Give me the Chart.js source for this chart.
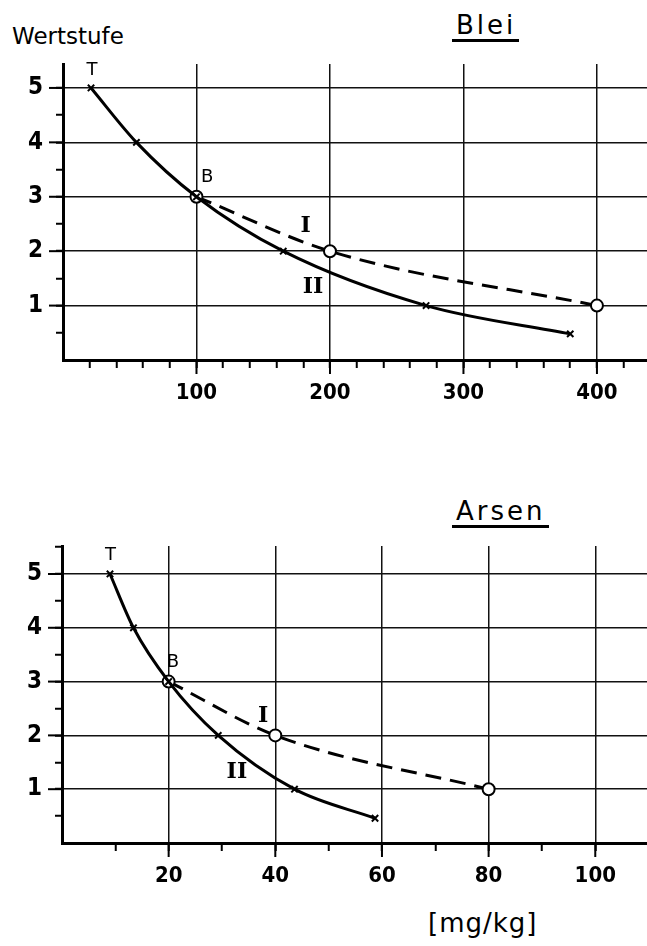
<!DOCTYPE html>
<html>
<head>
<meta charset="utf-8">
<script src="https://cdn.jsdelivr.net/npm/chart.js@4.4.1/dist/chart.umd.min.js"></script>
<style>
  body { margin: 0; width: 647px; height: 946px; position: relative; overflow: hidden; background: #fff; font-family: "DejaVu Sans", sans-serif; color: #000; }
  canvas { position: absolute; left: 0; }
  .title { position: absolute; font-size: 26px; line-height: 1; letter-spacing: 3px; border-bottom: 3px solid #000; padding: 0 3px 1px 4px; }
  .label { position: absolute; line-height: 1; }
</style>
</head>
<body>
<div class="label" style="left:12px; top:25px; font-size:23px;">Wertstufe</div>
<div class="title" style="left:452px; top:12px;">Blei</div>
<canvas id="bleiChart" width="647" height="400" style="top:0"></canvas>
<div class="title" style="left:452px; top:498px;">Arsen</div>
<canvas id="arsenChart" width="647" height="403" style="top:480px"></canvas>
<div class="label" style="left:428px; top:910px; font-size:26px; letter-spacing:1px;">[mg/kg]</div>

<script>
// Wertstufen (y)
const wertstufen = [1, 2, 3, 4, 5];

// Blei – Kurve II (durchgezogen, x-Marken) und Kurve I (gestrichelt, Kreise)
const bleiXII = [21, 55, 100, 165, 272, 380];
const bleiYII = [5, 4, 3, 2, 1, 0.48];
const bleiXI = [100, 200, 400];
const bleiYI = [3, 2, 1];
const bleiTickLabels = [100, 200, 300, 400];

// Arsen
const arsenXII = [9, 13.4, 20, 29.3, 43.6, 58.7];
const arsenYII = [5, 4, 3, 2, 1, 0.46];
const arsenXI = [20, 40, 80];
const arsenYI = [3, 2, 1];
const arsenTickLabels = [20, 40, 60, 80, 100];

// Beschriftungen im Diagramm
const noteText = ['T', 'B', 'I', 'II'];
const bleiNoteX = [21.7, 108, 181.7, 187.3];
const bleiNoteY = [5.33, 3.35, 2.46, 1.34];
const arsenNoteX = [9.1, 20.8, 37.7, 32.8];
const arsenNoteY = [5.35, 3.35, 2.35, 1.32];

const toPoints = (xs, ys) => xs.map((x, i) => ({ x: x, y: ys[i] }));

// längere Striche an den beschrifteten Ticks
const longTicks = {
  id: 'longTicks',
  afterDraw(chart, args, opts) {
    const ctx = chart.ctx;
    const { left, bottom } = chart.chartArea;
    ctx.save();
    ctx.strokeStyle = '#000';
    ctx.lineWidth = 2;
    opts.xMajor.forEach(v => {
      const px = chart.scales.x.getPixelForValue(v);
      ctx.beginPath(); ctx.moveTo(px, bottom); ctx.lineTo(px, bottom + 14); ctx.stroke();
    });
    wertstufen.forEach(v => {
      const py = chart.scales.y.getPixelForValue(v);
      ctx.beginPath(); ctx.moveTo(left - 14, py); ctx.lineTo(left, py); ctx.stroke();
    });
    ctx.restore();
  }
};

const notes = {
  id: 'notes',
  afterDatasetsDraw(chart, args, opts) {
    const ctx = chart.ctx;
    ctx.save();
    ctx.fillStyle = '#000';
    ctx.textAlign = 'center';
    ctx.textBaseline = 'middle';
    noteText.forEach((t, i) => {
      ctx.font = (t === 'I' || t === 'II') ? 'bold 22px "DejaVu Serif"' : '18px "DejaVu Sans"';
      ctx.fillText(t, chart.scales.x.getPixelForValue(opts.xs[i]), chart.scales.y.getPixelForValue(opts.ys[i]));
    });
    ctx.restore();
  }
};

function makeChart(id, cfg) {
  new Chart(document.getElementById(id), {
    type: 'scatter',
    data: {
      datasets: [
        {
          label: 'II',
          data: toPoints(cfg.xII, cfg.yII),
          showLine: true,
          borderColor: '#000',
          borderWidth: 3,
          cubicInterpolationMode: 'monotone',
          pointStyle: 'crossRot',
          pointRadius: 4.5,
          pointBorderWidth: 2,
          pointBorderColor: '#000',
          order: 0
        },
        {
          label: 'I',
          data: toPoints(cfg.xI, cfg.yI),
          showLine: true,
          borderColor: '#000',
          borderWidth: 3,
          borderDash: [16, 9],
          cubicInterpolationMode: 'monotone',
          pointStyle: 'circle',
          pointRadius: 6,
          pointBackgroundColor: '#fff',
          pointBorderColor: '#000',
          pointBorderWidth: 2,
          order: 1
        }
      ]
    },
    options: {
      responsive: false,
      animation: false,
      layout: { autoPadding: false, padding: { top: cfg.top, left: 0, right: 0, bottom: 0 } },
      plugins: {
        legend: { display: false },
        tooltip: { enabled: false },
        longTicks: { xMajor: cfg.tickLabels },
        notes: { xs: cfg.noteX, ys: cfg.noteY }
      },
      scales: {
        x: {
          type: 'linear',
          min: 0,
          max: cfg.xMax,
          afterFit: s => { s.height = 40; },
          border: { display: true, color: '#000', width: 3 },
          grid: {
            color: c => (c.tick && cfg.tickLabels.includes(c.tick.value)) ? '#111' : 'rgba(0,0,0,0)',
            tickColor: c => (c.tick && c.tick.value === 0) ? 'rgba(0,0,0,0)' : '#000',
            lineWidth: 1.5,
            tickWidth: 2,
            tickLength: 8
          },
          ticks: {
            stepSize: cfg.xStep,
            includeBounds: false,
            autoSkip: false,
            maxRotation: 0,
            padding: 12,
            color: '#000',
            font: { family: '"DejaVu Sans Condensed"', size: 22, weight: 'bold' },
            callback: v => cfg.tickLabels.includes(v) ? String(v) : ''
          }
        },
        y: {
          type: 'linear',
          min: 0,
          max: cfg.yMax,
          afterFit: s => { s.width = cfg.left; },
          border: { display: true, color: '#000', width: 3 },
          grid: {
            color: c => (c.tick && wertstufen.includes(c.tick.value)) ? '#111' : 'rgba(0,0,0,0)',
            tickColor: c => (c.tick && c.tick.value === 0) ? 'rgba(0,0,0,0)' : '#000',
            lineWidth: 1.5,
            tickWidth: 2,
            tickLength: 7
          },
          ticks: {
            stepSize: 0.5,
            includeBounds: false,
            autoSkip: false,
            padding: 13,
            color: '#000',
            font: { family: '"DejaVu Sans Condensed"', size: 24, weight: 'bold' },
            callback: v => wertstufen.includes(v) ? String(v) : ''
          }
        }
      }
    },
    plugins: [longTicks, notes]
  });
}

makeChart('bleiChart', {
  xII: bleiXII, yII: bleiYII, xI: bleiXI, yI: bleiYI,
  tickLabels: bleiTickLabels, xMax: 437.5, xStep: 20, yMax: 5.44,
  top: 64, left: 63, noteX: bleiNoteX, noteY: bleiNoteY
});

makeChart('arsenChart', {
  xII: arsenXII, yII: arsenYII, xI: arsenXI, yI: arsenYI,
  tickLabels: arsenTickLabels, xMax: 109.7, xStep: 10, yMax: 5.52,
  top: 66, left: 62, noteX: arsenNoteX, noteY: arsenNoteY
});
</script>
</body>
</html>
